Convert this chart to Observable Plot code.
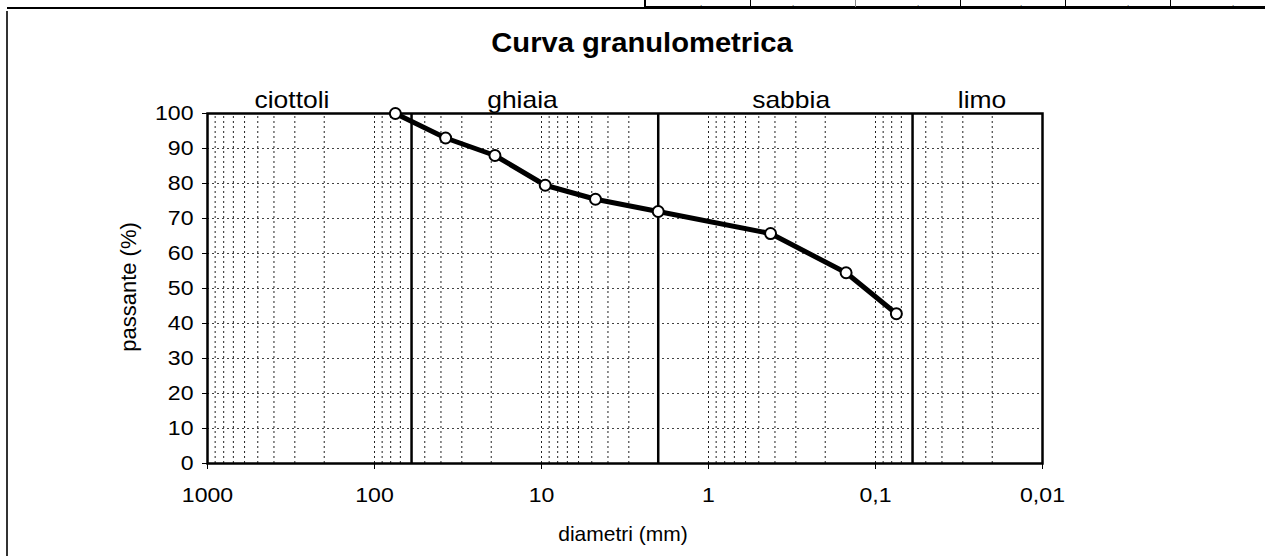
<!DOCTYPE html>
<html><head><meta charset="utf-8">
<script src="https://cdn.jsdelivr.net/npm/d3@7"></script>
<script src="https://cdn.jsdelivr.net/npm/@observablehq/plot@0.6"></script>
<style>
html,body{margin:0;padding:0;background:#fff;}
#wrap{position:relative;width:1265px;height:556px;overflow:hidden;font-family:"Liberation Sans",Arial,sans-serif;background:#fff;}
#wrap svg{position:absolute;left:0;top:0;}
.lbl{position:absolute;white-space:nowrap;color:#000;line-height:1;}
.deco{position:absolute;background:#000;}
</style></head><body>
<div id="wrap"></div>
<script>
// ---- data ----
const diameters = [75, 37.5, 19, 9.5, 4.75, 2, 0.425, 0.15, 0.075];
const passing = [100, 93, 88, 79.5, 75.5, 72, 65.7, 54.5, 42.8];
const boundaries = [60, 2, 0.06];
const zoneNames = ["ciottoli", "ghiaia", "sabbia", "limo"];
const zoneCenters = [312, 13, 0.32, 0.023];
const xTicks = [1000, 100, 10, 1, 0.1, 0.01];
const xTickLabels = ["1000", "100", "10", "1", "0,1", "0,01"];
const yTicks = [0, 10, 20, 30, 40, 50, 60, 70, 80, 90, 100];
const title = "Curva granulometrica";
const xLabel = "diametri (mm)";
const yLabel = "passante (%)";

// ---- build ----
const pts = diameters.map((d, i) => ({d, p: passing[i]}));
const labelMap = new Map(xTicks.map((t, i) => [t, xTickLabels[i]]));
const gridX = [];
for (let k = -2; k <= 2; k++) for (let m = 1; m <= 9; m++) {
  const v = +(m * Math.pow(10, k)).toPrecision(6);
  if (v > 0.01 && v < 1000) gridX.push(v);
}
const FONT = "Liberation Sans, Arial, sans-serif";

const chart = Plot.plot({
  width: 1265, height: 556,
  marginLeft: 207, marginRight: 223, marginTop: 113, marginBottom: 93,
  style: {fontFamily: FONT, fontSize: "21px", color: "#000", background: "transparent"},
  x: {type: "log", domain: [1000, 0.01]},
  y: {domain: [0, 100]},
  marks: [
    Plot.ruleX(gridX, {y1: 0, y2: 100, stroke: "#222", strokeWidth: 1, strokeDasharray: "2,3"}),
    Plot.ruleY(yTicks.slice(1, -1), {stroke: "#444", strokeWidth: 1, strokeDasharray: "2,3"}),
    Plot.ruleX(boundaries, {y1: 0, y2: 100, stroke: "#000", strokeWidth: 2.5}),
    Plot.frame({stroke: "#000", strokeWidth: 2.5}),
    Plot.axisX({ticks: xTicks, tickFormat: d => labelMap.get(d), tickSize: 6, tickPadding: 18, label: null, fontSize: 21}),
    Plot.axisY({ticks: yTicks, tickSize: 5, tickPadding: 9, label: null, fontSize: 21}),
    Plot.line(pts, {x: "d", y: "p", stroke: "#000", strokeWidth: 5}),
    Plot.dot(pts, {x: "d", y: "p", r: 5.5, fill: "#fff", stroke: "#000", strokeWidth: 2}),
    Plot.text(zoneNames, {x: (d, i) => zoneCenters[i], frameAnchor: "top", dy: -6, lineAnchor: "bottom", fontSize: 23, fill: "#000"})
  ]
});

// slight horizontal stretch of text, like the scanned original
chart.querySelectorAll("text").forEach(t => {
  const big = t.closest("g") && t.closest("g").getAttribute("font-size") === "23";
  const tr = t.getAttribute("transform") || "";
  t.setAttribute("transform", tr + (big ? " scale(1.15,1)" : " scale(1.1,1)"));
});

const wrap = document.getElementById("wrap");
wrap.appendChild(chart);

function addLabel(txt, css) {
  const d = document.createElement("div");
  d.className = "lbl";
  d.textContent = txt;
  Object.assign(d.style, css);
  wrap.appendChild(d);
  return d;
}
addLabel(title, {left: "642px", top: "30px", fontSize: "27px", fontWeight: "bold", transform: "translateX(-50%) scaleX(1.08)"});
addLabel(xLabel, {left: "623px", top: "533px", fontSize: "21px", transform: "translate(-50%,-50%)"});
addLabel(yLabel, {left: "129px", top: "287px", fontSize: "22px", transform: "translate(-50%,-50%) rotate(-90deg)"});

// page decorations from the scanned sheet
function deco(css) {
  const d = document.createElement("div");
  d.className = "deco";
  Object.assign(d.style, css);
  wrap.appendChild(d);
}
deco({left: "7px", top: "7px", width: "640px", height: "1.5px"});
deco({left: "645px", top: "6px", width: "620px", height: "3px"});
deco({left: "644px", top: "0px", width: "2px", height: "8px"});
[750, 960, 1065, 1170].forEach(x => deco({left: x + "px", top: "0px", width: "1px", height: "7px"}));
deco({left: "855px", top: "0px", width: "1px", height: "7px", background: "#888"});
deco({left: "6px", top: "11px", width: "1.5px", height: "545px", background: "#333"});
[700, 792, 917, 1020, 1127, 1232].forEach(x => addLabel(",", {left: x + "px", top: "0px", fontSize: "8px"}));
</script>
</body></html>
